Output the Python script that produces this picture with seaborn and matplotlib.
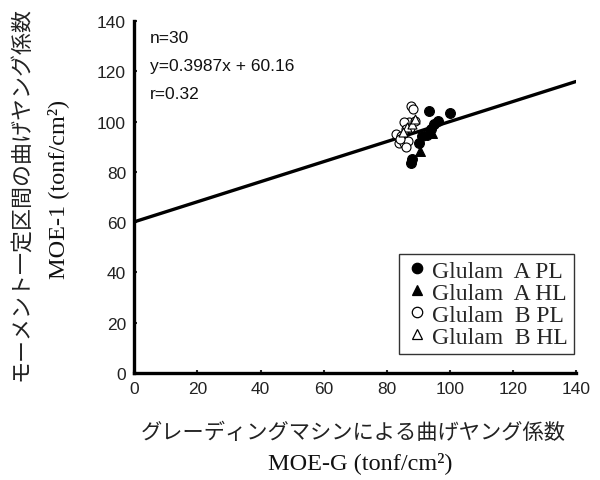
import matplotlib
matplotlib.use("Agg")
import matplotlib.pyplot as plt
import seaborn as sns
import numpy as np
import pandas as pd
from matplotlib.lines import Line2D

# ---- data ----
a_pl_x = [87.8, 88.0, 93.4, 100.2, 96.1, 95.1, 94.0, 92.9, 91.3, 90.1]
a_pl_y = [83.6, 85.2, 104.3, 103.6, 100.3, 99.0, 97.0, 94.5, 94.4, 91.4]
a_hl_x = [90.6, 94.5]
a_hl_y = [88.4, 95.5]
b_pl_x = [87.8, 88.2, 87.2, 88.8, 85.6, 83.0, 84.6, 84.0, 85.6, 86.6, 86.2, 87.5, 84.2, 86.0]
b_pl_y = [106.3, 105.0, 99.8, 100.2, 99.7, 95.0, 94.4, 91.7, 91.7, 92.2, 97.0, 97.5, 93.0, 90.0]
b_hl_x = [86.5, 88.0, 85.0, 89.0]
b_hl_y = [98.0, 99.0, 96.0, 101.0]
slope = 0.3987
intercept = 60.16
annot_lines = ["n=30", "y=0.3987x + 60.16", "r=0.32"]
legend_labels = ["Glulam  A PL", "Glulam  A HL", "Glulam  B PL", "Glulam  B HL"]
x_ticks = [0, 20, 40, 60, 80, 100, 120, 140]
y_ticks = [0, 20, 40, 60, 80, 100, 120, 140]
xlabel_jp = "グレーディングマシンによる曲げヤング係数"
xlabel_en = "MOE-G (tonf/cm²)"
ylabel_jp = "モーメント一定区間の曲げヤング係数"
ylabel_en = "MOE-1 (tonf/cm²)"

sns.set_theme(style="ticks")
plt.rcParams['font.family'] = ['Liberation Sans', 'DejaVu Sans']

fig = plt.figure(figsize=(6.0, 4.81), dpi=100)
ax = fig.add_axes([0.224, 0.2225, 0.736, 0.7315])

groups = [
    (a_pl_x, a_pl_y, "o", "black", "black", 50),
    (a_hl_x, a_hl_y, "^", "black", "black", 50),
    (b_pl_x, b_pl_y, "o", "white", "black", 42),
    (b_hl_x, b_hl_y, "^", "white", "black", 42),
]
handles = []
for (gx, gy, m, fc, ec, s), lab in zip(groups, legend_labels):
    df = pd.DataFrame({"x": gx, "y": gy})
    sns.scatterplot(data=df, x="x", y="y", marker=m, s=s, facecolor=fc,
                    edgecolor=ec, linewidth=0.8, ax=ax, zorder=3, legend=False)
    handles.append(Line2D([], [], marker=m, linestyle="none", markersize=7.5,
                          markerfacecolor=fc, markeredgecolor=ec,
                          markeredgewidth=0.9, label=lab))

xl = np.array([0, 140])
sns.lineplot(x=xl, y=slope * xl + intercept, color="black", linewidth=2.4,
             ax=ax, zorder=2)

ax.set_xlim(0, 140)
ax.set_ylim(0, 140)
ax.set_xticks(x_ticks)
ax.set_yticks(y_ticks)
ax.tick_params(direction="in", length=2.5, width=1.5, labelsize=12.5,
               labelcolor="#222222", pad=6)
ax.set_xlabel("")
ax.set_ylabel("")
for sp in ["top", "right"]:
    ax.spines[sp].set_visible(False)
for sp in ["left", "bottom"]:
    ax.spines[sp].set_linewidth(2.4)
    ax.spines[sp].set_color("black")

for i, t in enumerate(annot_lines):
    ax.text(0.035, 0.975 - i * 0.08, t, transform=ax.transAxes, fontsize=12.5,
            va="top", ha="left", color="#111111")

leg = ax.legend(handles=handles, loc="lower right", bbox_to_anchor=(0.995, 0.055),
                frameon=True, fancybox=False, edgecolor="black",
                prop={"family": "Liberation Serif", "size": 17},
                handletextpad=0.15, handlelength=1.0, borderpad=0.25,
                labelspacing=0.02, borderaxespad=0.0)
leg.get_frame().set_linewidth(1.0)

fig.text(0.588, 0.1, xlabel_jp, ha="center", va="center", fontsize=15.3,
         family=["Noto Sans CJK JP", "DejaVu Sans"], color="#222222")
fig.text(0.6, 0.037, xlabel_en, ha="center", va="center", fontsize=17.5,
         family=["Liberation Serif", "DejaVu Sans"], color="#111111")
fig.text(0.035, 0.597, ylabel_jp, ha="center", va="center", fontsize=15.8,
         rotation=90, family=["Noto Sans CJK JP", "DejaVu Sans"], color="#222222")
fig.text(0.097, 0.607, ylabel_en, ha="center", va="center", fontsize=17.5,
         rotation=90, family=["Liberation Serif", "DejaVu Sans"], color="#111111")

fig.savefig("out.png", dpi=100)
